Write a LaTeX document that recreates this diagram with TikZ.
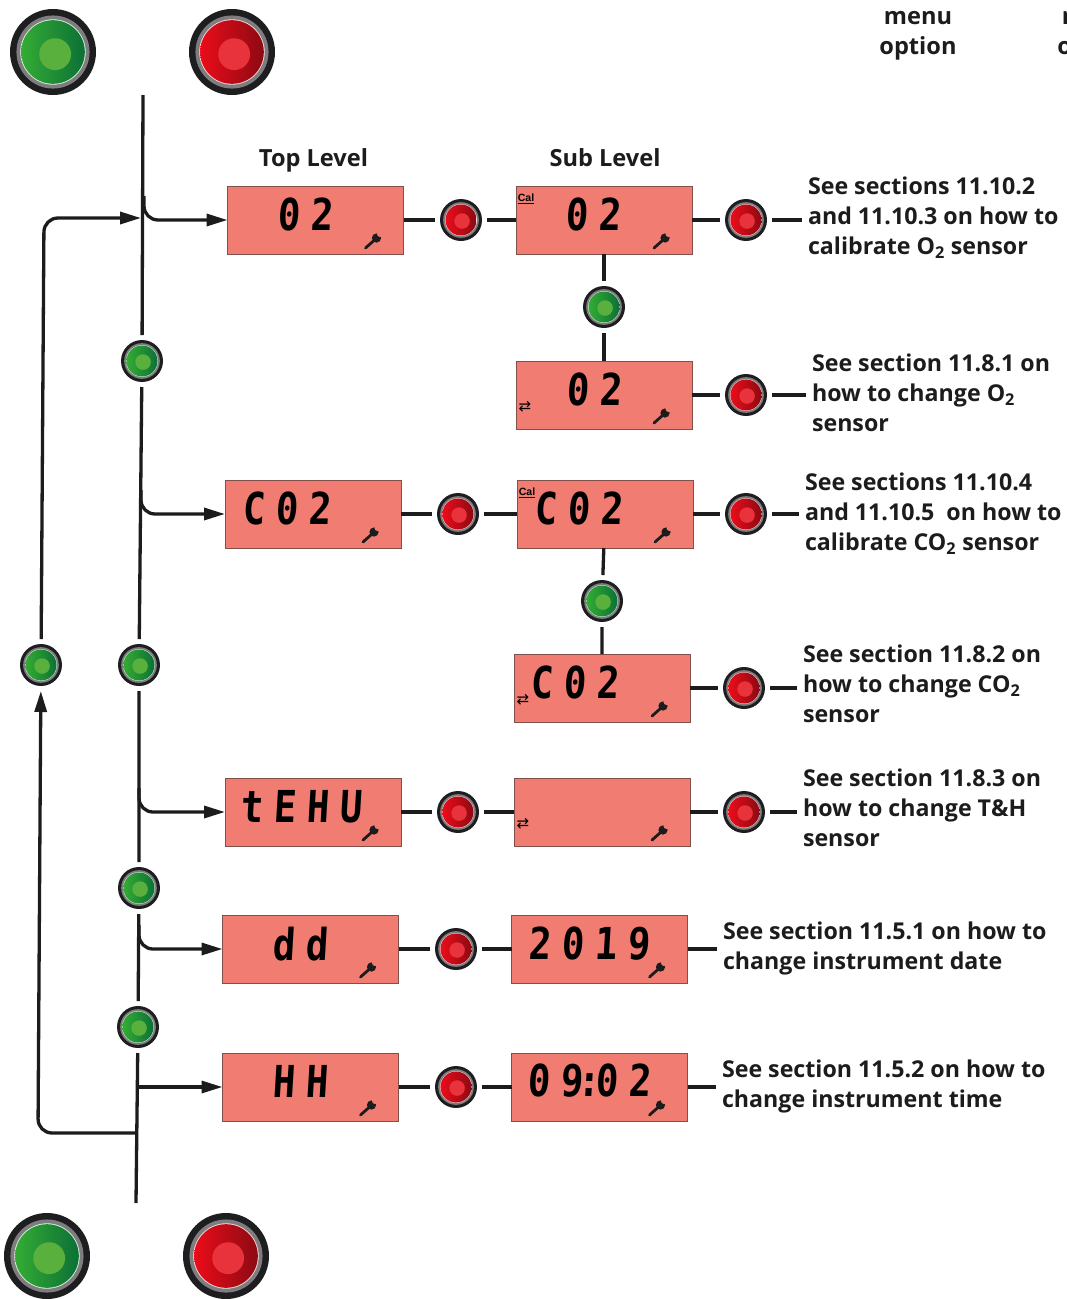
\documentclass[tikz,border=0pt]{standalone}
\usepackage{fontspec}
\setmainfont{Open Sans}
\newfontfamily\lcdfont[FakeSlant=0.06,FakeStretch=0.85,LetterSpace=24]{DejaVu Sans Mono}
\newfontfamily\symfont{DejaVu Sans}
\newfontfamily\calfont{Liberation Sans}
\usepackage{xcolor}
\usetikzlibrary{arrows.meta,calc}
\definecolor{lcdred}{RGB}{240,124,114}
\definecolor{lcdedge}{RGB}{130,80,76}
\definecolor{ink}{RGB}{28,28,28}
\definecolor{ringdark}{RGB}{30,30,32}
\definecolor{ringgrey}{RGB}{125,125,128}
\definecolor{okgreenL}{RGB}{52,172,52}
\definecolor{okgreenD}{RGB}{12,112,54}
\definecolor{okgreenC}{RGB}{90,176,60}
\definecolor{badredL}{RGB}{235,12,26}
\definecolor{badredD}{RGB}{140,10,18}
\definecolor{badredC}{RGB}{232,50,60}
% rings of one push button, #1 radius, #2 #3 #4 body colours
\newcommand{\btnface}[4]{
  \fill[ringgrey] (path picture bounding box.center) circle ({0.85*#1pt});
  \fill[white!85!#2] (path picture bounding box.center) circle ({0.76*#1pt});
  \shade[left color=#2, right color=#3] (path picture bounding box.center) circle ({0.74*#1pt});
  \fill[#4] ($(path picture bounding box.center)+({0.05*#1pt},{-0.05*#1pt})$) circle ({0.37*#1pt});
}
\newcommand{\spanner}{
  \draw[ink, line width=2.8pt, line cap=round] ($(path picture bounding box.south east)+(-38,-6)$) -- ($(path picture bounding box.south east)+(-29,-14)$);
  \fill[ink] ($(path picture bounding box.south east)+(-27,-16)$) circle (4.6pt);
  \fill[lcdred] ($(path picture bounding box.south east)+(-23.5,-20)$) circle (3pt);
}
\tikzset{
  lcdbox/.style={draw=lcdedge, line width=0.7pt, fill=lcdred, minimum width=176pt, minimum height=68pt,
    inner sep=0pt, outer sep=0pt, path picture={\spanner}},
  lcdtext/.style={font=\lcdfont\bfseries\fontsize{44}{44}\selectfont, text=black, inner sep=0pt},
  redbtn/.style={circle, fill=ringdark, inner sep=0pt, outer sep=5pt, minimum size=2*#1 pt,
    path picture={\btnface{#1}{badredL}{badredD}{badredC}}},
  greenbtn/.style={circle, fill=ringdark, inner sep=0pt, outer sep=5pt, minimum size=2*#1 pt,
    path picture={\btnface{#1}{okgreenL}{okgreenD}{okgreenC}}},
  conn/.style={draw=ink, line width=3.3pt},
  flow/.style={conn, rounded corners=14pt, -{Triangle[length=21pt,width=12pt]}},
  note/.style={font=\bfseries\fontsize{23.2}{30}\selectfont, text=ink, align=left, anchor=west, inner sep=0pt, outer sep=6pt},
  heading/.style={font=\bfseries\fontsize{23.6}{30}\selectfont, text=ink, align=center, inner sep=0pt},
  calmark/.style={font=\calfont\bfseries\fontsize{10.5}{11}\selectfont, text=black, inner sep=0pt},
  swapmark/.style={font=\symfont\fontsize{15}{15}\selectfont, text=black, inner sep=0pt},
}
\begin{document}
\begin{tikzpicture}[x=1pt, y=-1pt]
  \clip (0,0) rectangle (1067,1299);
  \fill[white] (0,0) rectangle (1067,1299);

  % legend buttons
  \node[greenbtn=43] (legGreenTop) at (53,52) {};
  \node[redbtn=43] (legRedTop) at (232,52) {};
  \node[greenbtn=43] (legGreenBot) at (47,1256) {};
  \node[redbtn=43] (legRedBot) at (226,1256) {};
  \node[heading] (menuA) at (918,36) {menu\\option};
  \node[heading] (menuB) at (1096,36) {menu\\option};
  \node[heading] (topHead) at (313.5,160) {Top Level};
  \node[heading] (subHead) at (605,158) {Sub Level};

  % displays
  \node[lcdbox] (top1) at (315.5,220) {};
  \node[lcdbox] (sub1) at (604,220) {};
  \node[lcdbox] (sub1b) at (604,395) {};
  \node[lcdbox] (top2) at (313,514) {};
  \node[lcdbox] (sub2) at (605,514) {};
  \node[lcdbox] (sub2b) at (602,688) {};
  \node[lcdbox] (top3) at (313,812) {};
  \node[lcdbox] (sub3) at (602,812) {};
  \node[lcdbox] (top4) at (310.5,949) {};
  \node[lcdbox] (sub4) at (599.5,949) {};
  \node[lcdbox] (top5) at (310.5,1087) {};
  \node[lcdbox] (sub5) at (599.5,1087) {};

  % display readings
  \node[lcdtext] (read1) at ($(top1)+(-10,-6)$) {02};
  \node[lcdtext] (read1s) at ($(sub1)+(-11,-6)$) {02};
  \node[lcdtext] (read1b) at ($(sub1b)+(-10,-6)$) {02};
  \node[lcdtext] (read2) at ($(top2)+(-26,-6)$) {C02};
  \node[lcdtext] (read2s) at ($(sub2)+(-26.5,-6)$) {C02};
  \node[lcdtext] (read2b) at ($(sub2b)+(-27,-6)$) {C02};
  \node[lcdtext] (read3) at ($(top3)+(-11.5,-5)$) {tEHU};
  \node[lcdtext] (read4) at ($(top4)+(-10.5,-5)$) {dd};
  \node[lcdtext] (read4s) at ($(sub4)+(-10.5,-5)$) {2019};
  \node[lcdtext] (read5) at ($(top5)+(-10.5,-6)$) {HH};
  \node[lcdtext] (read5s) at ($(sub5)+(-10.5,-6)$) {09\makebox[12pt]{:}02};

  \node[calmark] (cal1) at ($(sub1.north west)+(10,13)$) {\underline{Cal}};
  \node[calmark] (cal2) at ($(sub2.north west)+(10,13)$) {\underline{Cal}};
  \node[swapmark] (swap1) at ($(sub1b.south west)+(9,-22)$) {⇄};
  \node[swapmark] (swap2) at ($(sub2b.south west)+(9,-22)$) {⇄};
  \node[swapmark] (swap3) at ($(sub3.south west)+(9,-22)$) {⇄};

  % buttons
  \node[redbtn=21] (redA1) at (461,220) {};
  \node[redbtn=21] (redB1) at (746,220) {};
  \node[greenbtn=21] (greenS1) at (604,307) {};
  \node[redbtn=21] (redB1b) at (746,395) {};
  \node[redbtn=21] (redA2) at (458,514) {};
  \node[redbtn=21] (redB2) at (746,514) {};
  \node[greenbtn=21] (greenS2) at (602,601) {};
  \node[redbtn=21] (redB2b) at (744,688) {};
  \node[redbtn=21] (redA3) at (458,812) {};
  \node[redbtn=21] (redB3) at (744,812) {};
  \node[redbtn=21] (redA4) at (456,949) {};
  \node[redbtn=21] (redA5) at (456,1087) {};
  \node[greenbtn=21] (g1) at (142,361) {};
  \node[greenbtn=21] (g2) at (139,665) {};
  \node[greenbtn=21] (g3) at (139,888) {};
  \node[greenbtn=21] (g4) at (138,1027) {};
  \node[greenbtn=21] (g5) at (41,665) {};

  % notes
  \node[note] (note1) at (802,218) {See sections 11.10.2\\and 11.10.3 on how to\\calibrate O\textsubscript{2} sensor};
  \node[note] (note1b) at (806,393) {See section 11.8.1 on\\how to change O\textsubscript{2}\\sensor};
  \node[note] (note2) at (799,514) {See sections 11.10.4\\and 11.10.5~ on how to\\calibrate CO\textsubscript{2} sensor};
  \node[note] (note2b) at (797,684) {See section 11.8.2 on\\how to change CO\textsubscript{2}\\sensor};
  \node[note] (note3) at (797,808) {See section 11.8.3 on\\how to change T\&H\\sensor};
  \node[note] (note4) at (717,948) {See section 11.5.1 on how to\\change instrument date};
  \node[note] (note5) at (716,1086) {See section 11.5.2 on how to\\change instrument time};

  % row connectors
  \draw[conn] (top1) -- (redA1) -- (sub1) -- (redB1);
  \draw[conn] (redB1) -- (redB1 -| note1.west);
  \draw[conn] (sub1) -- (greenS1) -- (sub1b);
  \draw[conn] (sub1b) -- (redB1b);
  \draw[conn] (redB1b) -- (redB1b -| note1b.west);
  \draw[conn] (top2) -- (redA2) -- (sub2) -- (redB2);
  \draw[conn] (redB2) -- (redB2 -| note2.west);
  \draw[conn] (sub2) -- (greenS2) -- (sub2b);
  \draw[conn] (sub2b) -- (redB2b);
  \draw[conn] (redB2b) -- (redB2b -| note2b.west);
  \draw[conn] (top3) -- (redA3) -- (sub3) -- (redB3);
  \draw[conn] (redB3) -- (redB3 -| note3.west);
  \draw[conn] (top4) -- (redA4) -- (sub4);
  \draw[conn] (sub4) -- (sub4 -| note4.west);
  \draw[conn] (top5) -- (redA5) -- (sub5);
  \draw[conn] (sub5) -- (sub5 -| note5.west);

  % trunk and branches
  \coordinate (trunkTop) at (143,95);
  \coordinate (trunkBot) at (136,1203);
  \draw[conn] (trunkTop) -- (g1) -- (g2) -- (g3) -- (g4) -- (trunkBot);
  \coordinate (j1) at (144,196);
  \coordinate (j2) at (141,490);
  \coordinate (j3) at (139,788);
  \coordinate (j4) at (139,925);
  \coordinate (j5) at (137,1087);
  \draw[flow] (j1) |- (top1);
  \draw[flow] (j2) |- (top2);
  \draw[flow] (j3) |- (top3);
  \draw[flow] (j4) |- (top4);
  \draw[flow] (j5) -- (top5);

  % return path
  \coordinate (backFrom) at (136,1133);
  \coordinate (backCorner) at (38,1133);
  \coordinate (upCorner) at (44,218);
  \coordinate (upTo) at (141,218);
  \draw[flow] (backFrom) -- (backCorner) -- (g5);
  \draw[flow] (g5) -- (upCorner) -- (upTo);
\end{tikzpicture}
\end{document}
